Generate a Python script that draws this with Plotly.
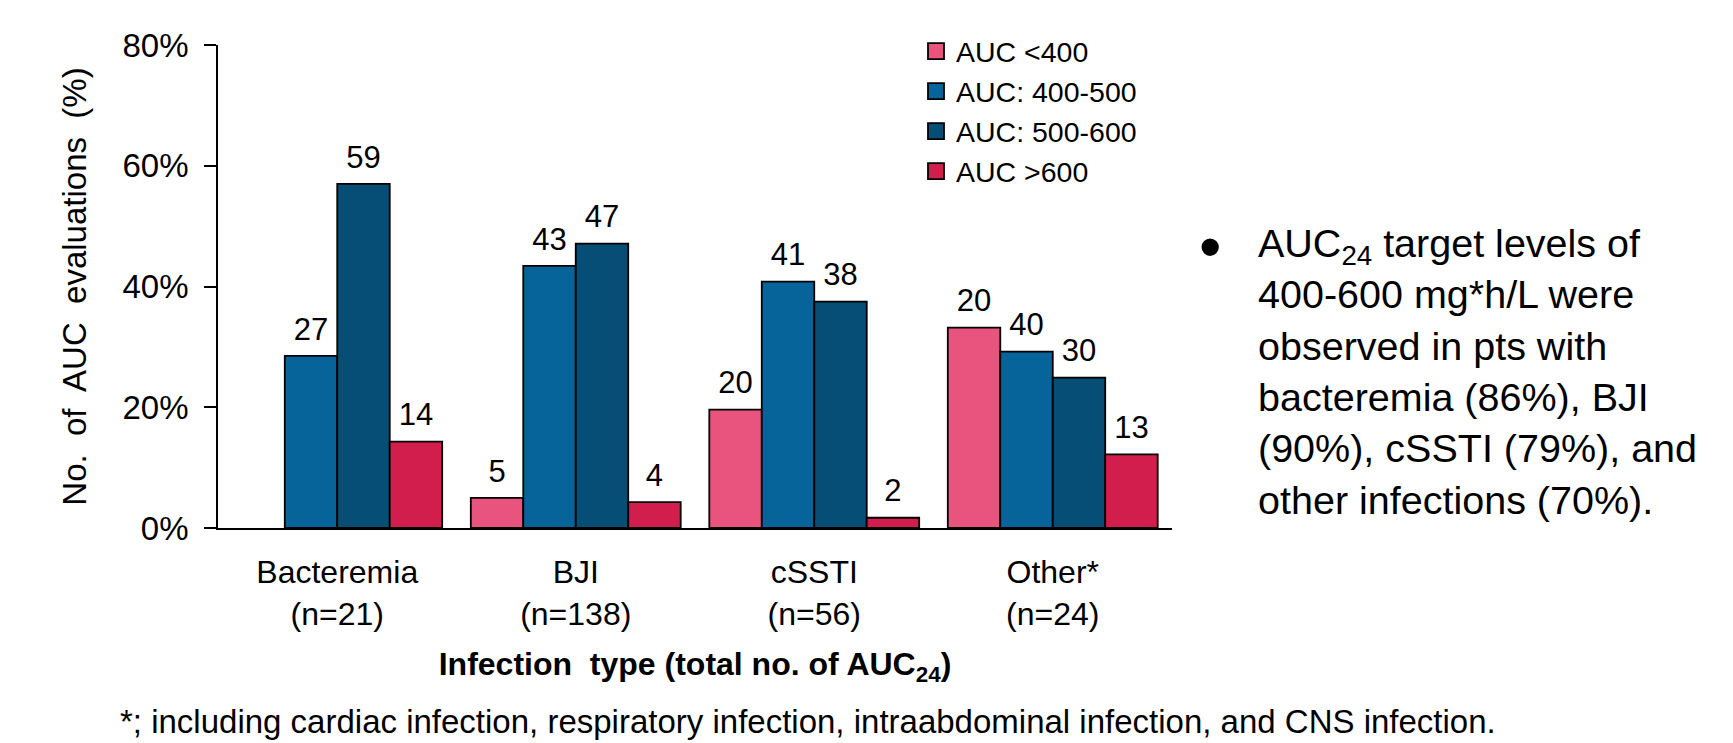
import plotly.graph_objects as go

# ---------------- data ----------------
categories = ["Bacteremia<br>(n=21)", "BJI<br>(n=138)", "cSSTI<br>(n=56)", "Other*<br>(n=24)"]
series_names = ["AUC <400", "AUC: 400-500", "AUC: 500-600", "AUC >600"]
auc_lt400 = [None, 5.0, 19.6, 33.2]
auc_400_500 = [28.5, 43.4, 40.8, 29.2]
auc_500_600 = [57.0, 47.1, 37.5, 24.9]
auc_gt600 = [14.3, 4.3, 1.7, 12.2]
labels_lt400 = ["", "5", "20", "20"]
labels_400_500 = ["27", "43", "41", "40"]
labels_500_600 = ["59", "47", "38", "30"]
labels_gt600 = ["14", "4", "2", "13"]
y_ticks = [0, 20, 40, 60, 80]

colors = ["#E8547D", "#07649A", "#064E75", "#D21E4D"]
FONT = "Arial, 'Liberation Sans', sans-serif"

W, H = 1733, 743
ML, MR, MT, MB = 218, 561, 45, 215
PW, PH = W - ML - MR, H - MT - MB


def px_x(px):
    return (px - ML) / PW


def px_y(py):
    return (H - MB - py) / PH


values = [auc_lt400, auc_400_500, auc_500_600, auc_gt600]
labels = [labels_lt400, labels_400_500, labels_500_600, labels_gt600]

fig = go.Figure()
for i, (name, vals) in enumerate(zip(series_names, values)):
    fig.add_trace(go.Bar(
        x=categories, y=vals, name=name, offsetgroup=str(i),
        marker=dict(color=colors[i], line=dict(color="black", width=1.8)),
        showlegend=False, hoverinfo="x+y",
    ))
for i, (vals, labs) in enumerate(zip(values, labels)):
    fig.add_trace(go.Scatter(
        x=categories, y=vals, mode="markers+text", offsetgroup=str(i),
        marker=dict(size=12, opacity=0), text=labs, textposition="top center",
        textfont=dict(size=31, color="black", family=FONT),
        showlegend=False, hoverinfo="skip", cliponaxis=False,
    ))
# legend entries
for i, name in enumerate(series_names):
    fig.add_trace(go.Scatter(
        x=[None], y=[None], mode="markers", name=name,
        marker=dict(symbol="square", size=16, color=colors[i],
                    line=dict(color="black", width=1.8)),
        xaxis="x2", yaxis="y2", hoverinfo="skip",
    ))

fig.update_layout(
    width=W, height=H,
    margin=dict(l=ML, r=MR, t=MT, b=MB, autoexpand=False),
    paper_bgcolor="white", plot_bgcolor="white",
    font=dict(family=FONT, color="black", size=30),
    barmode="group", bargap=0.12, bargroupgap=0,
    scattermode="group", scattergap=0.12,
    xaxis=dict(
        showline=True, linecolor="black", linewidth=1.8, ticks="",
        showgrid=False, tickfont=dict(size=32, family=FONT),
        ticklabelstandoff=15,
        title=dict(text="<b>Infection\u00a0 type (total no. of AUC<sub>24</sub>)</b>",
                   font=dict(size=32, family=FONT), standoff=22),
    ),
    yaxis=dict(
        range=[0, 80], tickvals=y_ticks, ticktext=[f"{v}%" for v in y_ticks],
        showline=True, linecolor="black", linewidth=1.8,
        ticks="outside", ticklen=12, tickwidth=1.8, tickcolor="black",
        showgrid=False, zeroline=False, tickfont=dict(size=33, family=FONT),
        ticklabelstandoff=9,
        title=dict(text="No.\u00a0 of\u00a0 AUC\u00a0 evaluations\u00a0 (%)",
                   font=dict(size=33, family=FONT), standoff=26),
    ),
    xaxis2=dict(overlaying="x", visible=False, range=[0, 1]),
    yaxis2=dict(overlaying="y", visible=False, range=[0, 1]),
    legend=dict(
        x=px_x(916), y=px_y(26), xanchor="left", yanchor="top",
        font=dict(size=28.5, family=FONT), bgcolor="rgba(0,0,0,0)",
        tracegroupgap=0, itemwidth=30,
    ),
    annotations=[
        dict(text="\u2022", xref="paper", yref="paper", x=px_x(1210), y=px_y(247),
             xanchor="center", yanchor="middle", showarrow=False,
             font=dict(size=64, family=FONT)),
        dict(text=("AUC<sub>24</sub> target levels of<br>400-600 mg*h/L were<br>"
                   "observed in pts with<br>bacteremia (86%), BJI<br>"
                   "(90%), cSSTI (79%), and<br>other infections (70%)."),
             xref="paper", yref="paper", x=px_x(1256), y=px_y(219),
             xanchor="left", yanchor="top", align="left", showarrow=False,
             font=dict(size=39.5, family=FONT)),
        dict(text=("*; including cardiac infection, respiratory infection, "
                   "intraabdominal infection, and CNS infection."),
             xref="paper", yref="paper", x=px_x(118), y=px_y(742),
             xanchor="left", yanchor="bottom", showarrow=False,
             font=dict(size=33, family=FONT)),
    ],
)

fig.write_html(
    "out.html",
    config={"displayModeBar": False},
    post_script="document.body.style.margin='0';document.body.style.overflow='hidden';",
)
